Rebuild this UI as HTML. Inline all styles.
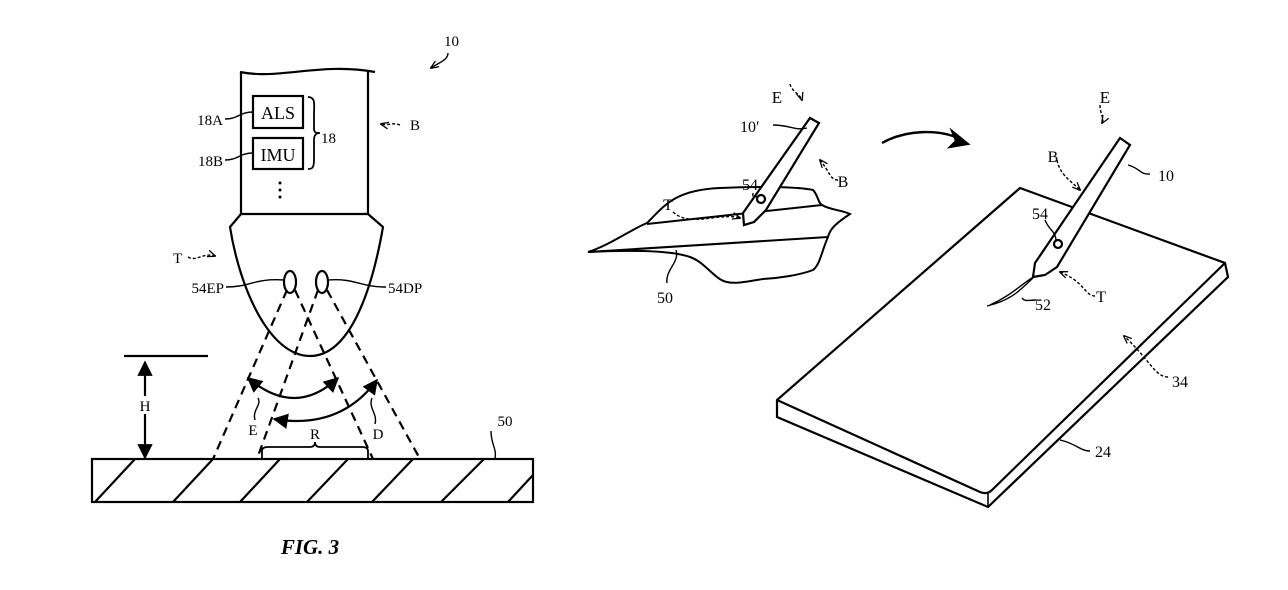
<!DOCTYPE html>
<html><head><meta charset="utf-8"><style>
html,body{margin:0;padding:0;background:#fff;}
svg{display:block;}
text{font-family:"Liberation Serif",serif;fill:#000;}
</style></head><body>
<svg width="1288" height="590" viewBox="0 0 1288 590" xmlns="http://www.w3.org/2000/svg">
<defs>
<marker id="ah" viewBox="0 0 10 10" refX="9" refY="5" markerWidth="7" markerHeight="7" orient="auto-start-reverse"><path d="M0,0 L10,5 L0,10 z" fill="#000"/></marker>
<marker id="sa" viewBox="0 0 10 10" refX="9" refY="5" markerWidth="6" markerHeight="6" orient="auto"><path d="M0,1 L10,5 L0,9" fill="none" stroke="#000" stroke-width="1.5"/></marker>
</defs>
<g fill="none" stroke="#000" stroke-width="2.2">
<!-- LEFT FIGURE -->
<path d="M240,72 C280,80 320,62 375,72"/>
<path d="M241,72 L241,214 M368,72 L368,214 M241,214 L368,214"/>
<rect x="253" y="96" width="50" height="32"/>
<rect x="253" y="138" width="50" height="31"/>
<path d="M308,97 C316,97 314,105 314,115 L314,128 C314,133 316,133 320,133 C316,133 314,135 314,140 L314,160 C314,168 312,169 308,169" stroke-width="1.8"/>
<path d="M241,214 L230,227 C240,290 270,356 310,356 C350,356 372,290 383,227 L368,214"/>
<ellipse cx="290" cy="282" rx="6" ry="11"/>
<ellipse cx="322" cy="282" rx="6" ry="11"/>
<g stroke-dasharray="9,6">
<path d="M287,290 L213,459"/><path d="M295,290 L373,459"/>
<path d="M318,290 L257,459"/><path d="M327,290 L420,459"/>
</g>
<path d="M248,378 Q295,418 338,378" marker-start="url(#ah)" marker-end="url(#ah)"/>
<path d="M274,419 Q340,430 377,380" marker-start="url(#ah)" marker-end="url(#ah)"/>
<path d="M124,356 L208,356"/>
<path d="M145,396 L145,362" marker-end="url(#ah)"/>
<path d="M145,414 L145,458" marker-end="url(#ah)"/>
<path d="M262,459 L262,451 Q262,447 268,447 L310,447 Q315,447 315,442 Q315,447 320,447 L362,447 Q368,447 368,451 L368,459" stroke-width="1.8"/>
<rect x="92" y="459" width="441" height="43"/>
<path d="M95,502 L135,459 M173,502 L213,459 M240,502 L280,459 M307,502 L348,459 M372,502 L413,459 M441,502 L484,459 M508,502 L533,475"/>
<g stroke-width="1.4">
<path d="M225,119 C238,119 240,112 253,112"/>
<path d="M225,160 C238,160 240,153 253,153"/>
<path d="M226,287 C250,287 255,278 284,280"/>
<path d="M386,287 C360,287 355,278 328,280"/>
<path d="M255,420 C252,410 262,405 258,398"/>
<path d="M375,424 C378,414 368,408 372,398"/>
<path d="M491,431 C491,445 497,448 495,459"/>
<path d="M400,125 C392,122 390,126 381,124" stroke-dasharray="3,2" marker-end="url(#sa)"/>
<path d="M188,257 C196,262 204,252 215,256" stroke-dasharray="3,2" marker-end="url(#sa)"/>
<path d="M448,53 C448,60 440,62 431,68" marker-end="url(#sa)"/>
</g>
<!-- MIDDLE FIGURE -->
<path d="M647,223 C665,205 675,190 720,188 C760,186 800,187 813,190 C818,195 818,203 822,205 C830,210 842,210 850,214 C838,222 830,228 828,237 C822,250 820,265 813,270 C800,275 780,278 763,279 C745,282 735,284 727,282 C715,280 705,262 690,257 C670,250 630,250 588,252 C610,245 630,230 647,223 Z" stroke-width="2"/>
<path d="M647,224 L822,205 M588,252 L828,237" stroke-width="2"/>
<path d="M810,118 L819,123 L766,210 L754,222 L744,225 L743,213 L810,118 Z" fill="#fff"/>
<circle cx="761" cy="199" r="4" fill="#fff"/>
<path d="M882,143 C905,130 940,128 962,140" stroke-width="2.4"/>
<path d="M968,144 L952,131 L956,141 L950,147 Z" fill="#000"/>
<g stroke-width="1.4">
<path d="M790,84 C792,92 800,94 802,100" stroke-dasharray="3,2" marker-end="url(#sa)"/>
<path d="M773,125 C790,125 795,131 807,128"/>
<path d="M753,193 C752,200 757,195 758,197"/>
<path d="M838,180 C830,180 830,172 820,160" stroke-dasharray="3,2" marker-end="url(#sa)"/>
<path d="M673,212 C690,228 720,212 740,218" stroke-dasharray="3,2" marker-end="url(#sa)"/>
<path d="M667,283 C665,270 680,262 676,250"/>
</g>
<!-- RIGHT FIGURE -->
<path d="M1020,188 L1225,263 L1228,277 L988,507 L777,417 L777,400 Z" fill="#fff"/>
<path d="M777,400 L980,492 Q987,495 992,490 L1225,263"/>
<path d="M988,493 L988,507" stroke-width="1.6"/>
<path d="M1120,138 L1130,145 L1057,267 L1045,275 L1033,277 L1035,263 Z" fill="#fff"/>
<circle cx="1058" cy="244" r="4" fill="#fff"/>
<path d="M1035,276 C1020,285 1012,295 990,305 M1033,278 C1020,290 1012,300 987,306" stroke-width="1.4"/>
<g stroke-width="1.4">
<path d="M1100,105 C1100,115 1105,118 1102,123" stroke-dasharray="3,2" marker-end="url(#sa)"/>
<path d="M1057,160 C1060,175 1070,180 1080,190" stroke-dasharray="3,2" marker-end="url(#sa)"/>
<path d="M1150,174 C1140,175 1140,168 1128,165"/>
<path d="M1045,220 C1050,232 1055,230 1056,240"/>
<path d="M1095,296 C1085,296 1085,282 1060,272" stroke-dasharray="3,2" marker-end="url(#sa)"/>
<path d="M1036,300 C1028,300 1025,302 1022,298"/>
<path d="M1168,377 C1155,377 1150,360 1124,336" stroke-dasharray="3,2" marker-end="url(#sa)"/>
<path d="M1090,451 C1080,451 1075,443 1060,440"/>
</g>
</g>
<!-- TEXT -->
<g font-size="15">
<text x="444" y="46">10</text>
<text x="278" y="119" font-size="18" text-anchor="middle">ALS</text>
<text x="278" y="161" font-size="18" text-anchor="middle">IMU</text>
<text x="321" y="143">18</text>
<text x="223" y="125" text-anchor="end">18A</text>
<text x="223" y="166" text-anchor="end">18B</text>
<text x="410" y="130">B</text>
<text x="173" y="263">T</text>
<text x="224" y="293" text-anchor="end">54EP</text>
<text x="388" y="293">54DP</text>
<text x="145" y="411" text-anchor="middle">H</text>
<text x="253" y="435" text-anchor="middle">E</text>
<text x="315" y="439" text-anchor="middle">R</text>
<text x="378" y="439" text-anchor="middle">D</text>
<text x="505" y="426" text-anchor="middle">50</text>
<text x="777" y="103" font-size="17" text-anchor="middle">E</text>
<text x="740" y="132" font-size="16">10′</text>
<text x="750" y="190" font-size="16" text-anchor="middle">54</text>
<text x="668" y="210" font-size="16" text-anchor="middle">T</text>
<text x="843" y="187" font-size="16" text-anchor="middle">B</text>
<text x="665" y="303" font-size="16" text-anchor="middle">50</text>
<text x="1105" y="103" font-size="17" text-anchor="middle">E</text>
<text x="1053" y="162" font-size="16" text-anchor="middle">B</text>
<text x="1166" y="181" font-size="16" text-anchor="middle">10</text>
<text x="1040" y="219" font-size="16" text-anchor="middle">54</text>
<text x="1101" y="302" font-size="16" text-anchor="middle">T</text>
<text x="1043" y="310" font-size="16" text-anchor="middle">52</text>
<text x="1180" y="387" font-size="16" text-anchor="middle">34</text>
<text x="1103" y="457" font-size="16" text-anchor="middle">24</text>
</g>
<text x="310" y="554" font-size="21" font-weight="bold" font-style="italic" text-anchor="middle">FIG. 3</text>
<g fill="#000"><circle cx="280" cy="183" r="1.5"/><circle cx="280" cy="190" r="1.5"/><circle cx="280" cy="197" r="1.5"/></g>
</svg>
</body></html>
